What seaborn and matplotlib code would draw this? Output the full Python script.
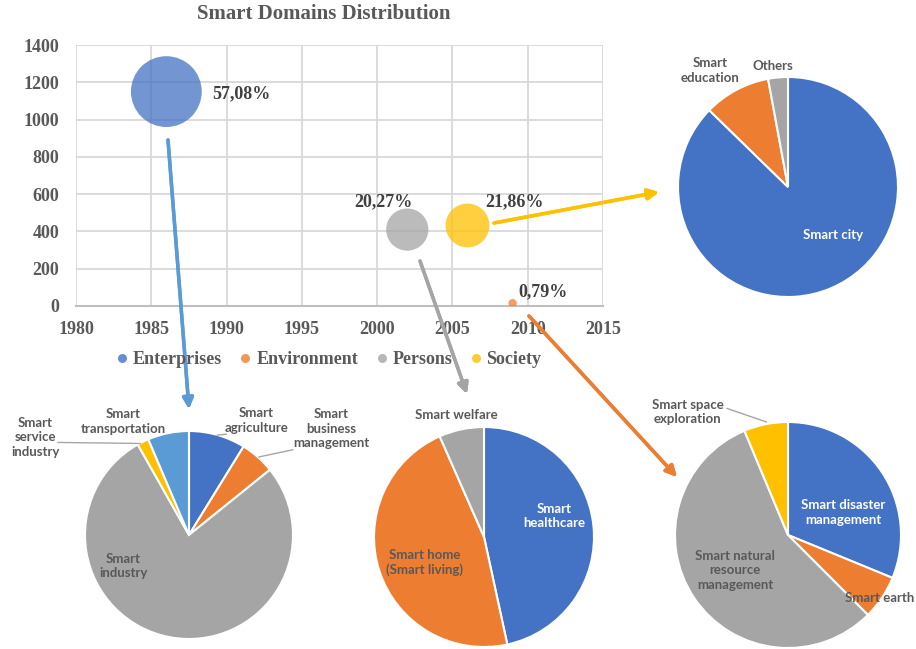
import matplotlib

matplotlib.use("Agg")
import matplotlib.pyplot as plt
import seaborn as sns
import pandas as pd
from matplotlib.lines import Line2D

# bubble chart data
domains = ["Enterprises", "Environment", "Persons", "Society"]
years = [1986, 2009, 2002, 2006]
counts = [1150, 15, 410, 432]
shares = [57.08, 0.79, 20.27, 21.86]

# sub-domain pies
society_labels = ["Smart city", "Smart\neducation", "Others"]
society_values = [87.3, 9.8, 2.9]

enterprise_labels = ["Smart\nagriculture", "Smart\nbusiness\nmanagement", "Smart\nindustry",
                     "Smart\nservice\nindustry", "Smart\ntransportation"]
enterprise_values = [8.8, 5.4, 77.6, 1.8, 6.4]

persons_labels = ["Smart\nhealthcare", "Smart home\n(Smart living)", "Smart welfare"]
persons_values = [46.6, 46.8, 6.6]

environment_labels = ["Smart disaster\nmanagement", "Smart earth",
                      "Smart natural\nresource\nmanagement", "Smart space\nexploration"]
environment_values = [31.2, 6.3, 56.2, 6.3]

BLUE, ORANGE, GRAY, YELLOW, LBLUE = "#4472C4", "#ED7D31", "#A5A5A5", "#FFC000", "#5B9BD5"
palette = {"Enterprises": BLUE, "Environment": ORANGE, "Persons": GRAY, "Society": YELLOW}
TXT = "#595959"
SERIF = ["Liberation Serif", "DejaVu Serif"]
SANS = ["Lato", "DejaVu Sans"]

W, H = 916, 649
sns.set_style("white")
fig = plt.figure(figsize=(W / 100, H / 100), dpi=100)


def px_box(x0, y0, x1, y1):
    # pixel box (top-left origin) -> figure fraction rect
    return [x0 / W, 1 - y1 / H, (x1 - x0) / W, (y1 - y0) / H]


# ---- bubble chart ----
ax = fig.add_axes(px_box(76, 45, 603, 306))
df = pd.DataFrame({"domain": domains, "year": years, "count": counts, "share": shares})
sns.scatterplot(data=df, x="year", y="count", hue="domain", palette=palette,
                size="share", sizes=(0, 2600), size_norm=(0, max(shares)),
                alpha=0.75, linewidth=0, legend=False, ax=ax, zorder=3)
ax.set_xlim(1980, 2015)
ax.set_ylim(0, 1400)
ax.set_xticks(range(1980, 2016, 5))
ax.set_yticks(range(0, 1401, 200))
ax.grid(True, color="#d9d9d9", linewidth=1.3)
for s in ["top", "right", "left"]:
    ax.spines[s].set_visible(False)
ax.spines["bottom"].set_color("#bfbfbf")
ax.spines["bottom"].set_linewidth(1.5)
ax.set_xlabel("")
ax.set_ylabel("")
ax.tick_params(length=0, labelcolor=TXT)
ax.tick_params(axis="x", pad=11)
ax.tick_params(axis="y", pad=12)
for lab in ax.get_xticklabels() + ax.get_yticklabels():
    lab.set_fontfamily(SERIF)
    lab.set_fontweight("bold")
    lab.set_fontsize(13)

offsets = {"Enterprises": (54, -1.5), "Environment": (22, 8), "Persons": (-17, 20), "Society": (34, 17)}
for d, x, y, s in zip(domains, years, counts, shares):
    ax.annotate(f"{s:.2f}".replace(".", ",") + "%", (x, y), xytext=offsets[d],
                textcoords="offset points", ha="center", va="center",
                fontfamily=SERIF, fontweight="bold", fontsize=13, color="#404040")

fig.text(324 / W, 1 - 14 / H, "Smart Domains Distribution", ha="center", va="center",
         fontfamily=SERIF, fontweight="bold", fontsize=15, color=TXT)

handles = [Line2D([], [], marker="o", linestyle="", markersize=6.5, color=palette[d],
                  alpha=0.8, markeredgewidth=0) for d in domains]
fig.legend(handles, domains, loc="center", bbox_to_anchor=(329 / W, 1 - 360 / H), ncol=4,
           frameon=False, handlelength=0.6, handletextpad=0.3, columnspacing=1.0,
           prop={"family": SERIF, "weight": "bold", "size": 13}, labelcolor=TXT)


# ---- pies ----
def pie(cx, cy, r, values, labels, colors, spots, white, leaders=()):
    pax = fig.add_axes(px_box(cx - r, cy - r, cx + r, cy + r))
    pax.pie(values, colors=colors, startangle=90, counterclock=False, radius=1,
            wedgeprops={"edgecolor": "white", "linewidth": 1.5})
    pax.set_xlim(-1, 1)
    pax.set_ylim(-1, 1)
    pax.set_aspect("auto")
    pax.axis("off")
    for lab, (tx, ty), w in zip(labels, spots, white):
        pax.text(tx, ty, lab, ha="center", va="center", fontsize=9.5, fontweight="bold",
                 fontfamily=SANS, color="white" if w else TXT, clip_on=False,
                 linespacing=1.25)
    for (x0, y0), (x1, y1) in leaders:
        pax.plot([x0, x1], [y0, y1], color="#a6a6a6", lw=1, clip_on=False)


pie(788, 187, 110, society_values, society_labels, [BLUE, ORANGE, GRAY],
    [(0.41, -0.44), (-0.71, 1.06), (-0.14, 1.10)], [True, False, False])

pie(189, 535, 104, enterprise_values, enterprise_labels, [BLUE, ORANGE, GRAY, YELLOW, LBLUE],
    [(0.65, 1.10), (1.37, 1.02), (-0.63, -0.30), (-1.48, 0.94), (-0.63, 1.09)],
    [False] * 5,
    leaders=[((0.27, 0.96), (0.36, 0.97)), ((0.67, 0.75), (1.0, 0.82)),
             ((-1.26, 0.89), (-0.47, 0.88))])

pie(484, 537, 110, persons_values, persons_labels, [BLUE, ORANGE, GRAY],
    [(0.64, 0.19), (-0.54, -0.23), (-0.25, 1.11)], [True, False, False])

pie(788, 535, 113, environment_values, environment_labels, [BLUE, ORANGE, GRAY, YELLOW],
    [(0.49, 0.20), (0.81, -0.56), (-0.47, -0.31), (-0.89, 1.09)],
    [True, False, False, False],
    leaders=[((-0.54, 1.12), (-0.19, 1.0))])

# ---- connecting arrows ----
arrows = [((168, 140), (189, 409), LBLUE),
          ((420, 261), (467, 394), GRAY),
          ((529, 316), (677, 477), ORANGE),
          ((494, 223), (659, 192), YELLOW)]
for (x0, y0), (x1, y1), c in arrows:
    fig.add_artist(plt.annotate("", xy=(x1, H - y1), xytext=(x0, H - y0),
                                xycoords="figure pixels", textcoords="figure pixels",
                                arrowprops=dict(arrowstyle="-|>", color=c, lw=2.5,
                                                mutation_scale=16, shrinkA=0, shrinkB=0)))

plt.savefig("out.png", dpi=100)
plt.close()
